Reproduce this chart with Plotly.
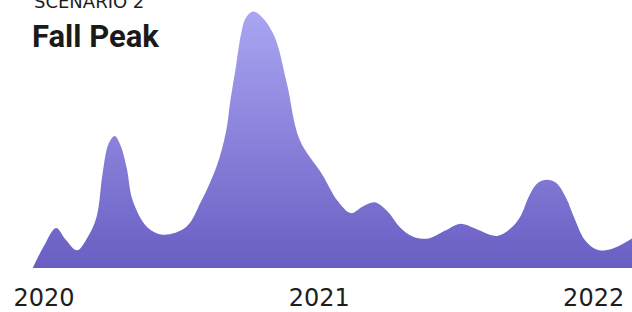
import plotly.graph_objects as go

# Data (relative level, peak = 100)
dates = [
    "2019-12-17", "2020-01-02", "2020-01-17", "2020-01-30", "2020-02-14",
    "2020-02-28", "2020-03-11", "2020-03-19", "2020-03-27", "2020-04-04",
    "2020-04-12", "2020-04-20", "2020-04-28", "2020-05-17", "2020-06-07",
    "2020-07-08", "2020-07-28", "2020-08-18", "2020-08-30", "2020-09-05",
    "2020-09-12", "2020-09-19", "2020-09-25", "2020-10-05", "2020-10-18",
    "2020-11-03", "2020-11-19", "2020-12-06", "2021-01-05", "2021-01-26",
    "2021-02-12", "2021-02-28", "2021-03-16", "2021-04-02", "2021-04-18",
    "2021-05-06", "2021-05-26", "2021-06-17", "2021-07-07", "2021-07-31",
    "2021-08-16", "2021-08-27", "2021-09-12", "2021-09-25", "2021-10-08",
    "2021-10-19", "2021-10-31", "2021-11-12", "2021-11-25", "2021-12-07",
    "2021-12-20", "2022-01-04", "2022-01-17", "2022-02-02", "2022-02-21",
]
values = [
    0, 9.2, 15.6, 11, 6.9,
    12, 20, 37, 48.5, 51.5,
    47.7, 39, 26.3, 16, 13,
    16, 26, 40, 53, 65.6,
    78, 91, 97.3, 100, 97.5,
    90, 72, 50, 36.5, 26,
    21.4, 24, 25.6, 22, 16,
    12.2, 11.5, 14.5, 17.2, 14.9,
    13, 12.6, 15.3, 19.8, 28.6,
    33.2, 34.4, 33.2, 27.5, 19,
    11, 7.3, 6.9, 8.4, 11.5,
]
tick_vals = ["2020-01-01", "2021-01-01", "2022-01-01"]
tick_text = ["2020", "2021", "2022"]
kicker = "SCENARIO 2"
title = "Fall Peak"

fig = go.Figure()
fig.add_trace(go.Scatter(
    x=dates, y=values,
    mode="lines",
    line=dict(shape="spline", smoothing=1.0, width=0, color="#7a70d0"),
    fill="tozeroy",
    fillgradient=dict(
        type="vertical",
        colorscale=[[0, "#695ec2"], [0.5, "#8a81db"], [1, "#aaa6f1"]],
    ),
    hoverinfo="skip",
))

fig.update_layout(
    width=632, height=312,
    margin=dict(l=0, r=0, t=0, b=38),
    paper_bgcolor="white", plot_bgcolor="white",
    showlegend=False,
    xaxis=dict(
        range=["2019-11-03 12:00", "2022-02-21"],
        tickvals=tick_vals, ticktext=tick_text,
        showgrid=False, zeroline=False, showline=False,
        ticks="outside", ticklen=8, tickcolor="rgba(0,0,0,0)",
        tickfont=dict(family="DejaVu Sans", size=24, color="#1e1e1e"),
    ),
    yaxis=dict(
        range=[0, 104.5],
        visible=False, showgrid=False, zeroline=False,
    ),
    annotations=[
        dict(text=kicker, xref="paper", yref="paper", x=32 / 632, y=1 - 1.5 / 274,
             xanchor="left", yanchor="middle", showarrow=False,
             font=dict(family="DejaVu Sans", size=18, color="#1e1e1e")),
        dict(text="<b>" + title + "</b>", xref="paper", yref="paper",
             x=30 / 632, y=1 - 37 / 274,
             xanchor="left", yanchor="middle", showarrow=False,
             font=dict(family="Roboto", size=31, color="#1a1a1a")),
    ],
)

fig.write_html(
    "out.html",
    config={"displayModeBar": False},
    post_script="document.body.style.margin='0';document.body.style.padding='0';document.body.style.overflow='hidden';",
)
